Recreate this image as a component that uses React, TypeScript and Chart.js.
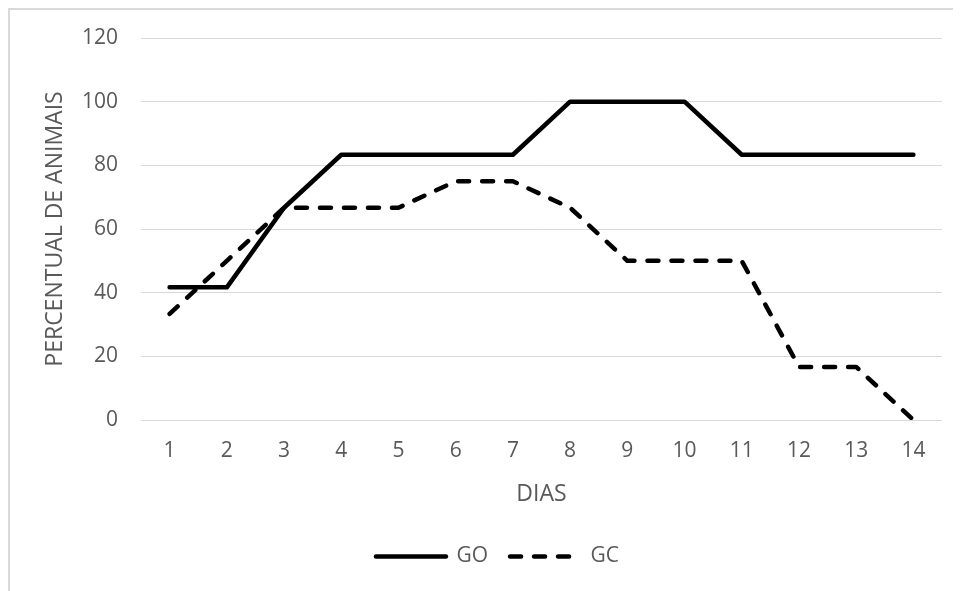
import { useEffect, useRef } from "react";
import { Chart, registerables } from "chart.js";

Chart.register(...registerables);

// Days of observation
const days = ["1", "2", "3", "4", "5", "6", "7", "8", "9", "10", "11", "12", "13", "14"];

// Percentage of animals per group
const goValues = [41.67, 41.67, 66.67, 83.33, 83.33, 83.33, 83.33, 100, 100, 100, 83.33, 83.33, 83.33, 83.33];
const gcValues = [33.33, 50, 66.67, 66.67, 66.67, 75, 75, 66.67, 50, 50, 50, 16.67, 16.67, 0];

// Value axis range
const yMin = 0;
const yMax = 120;
const yStep = 20;

const TEXT = "#595959";
const GRID = "#d9d9d9";
const FONT = "'Open Sans', 'Liberation Sans', sans-serif";

// Light frame around the whole chart (open on the right and bottom edges)
const framePlugin = {
  id: "frame",
  beforeDraw(chart: Chart) {
    const { ctx, width, height } = chart;
    ctx.save();
    ctx.fillStyle = "#ffffff";
    ctx.fillRect(0, 0, width, height);
    ctx.strokeStyle = GRID;
    ctx.lineWidth = 2;
    ctx.strokeRect(1, 1, width + 20, height + 20);
    ctx.restore();
  },
};

export default function App() {
  const canvasRef = useRef<HTMLCanvasElement>(null);

  useEffect(() => {
    const canvas = canvasRef.current;
    if (!canvas) return;
    const chart = new Chart(canvas, {
      type: "line",
      data: {
        labels: days,
        datasets: [
          {
            label: "GO",
            data: goValues,
            borderColor: "#000000",
            backgroundColor: "#000000",
            borderWidth: 4.5,
            borderCapStyle: "round",
            borderJoinStyle: "round",
            pointRadius: 0,
            tension: 0,
          },
          {
            label: "GC",
            data: gcValues,
            borderColor: "#000000",
            backgroundColor: "#000000",
            borderWidth: 4.5,
            borderDash: [11, 13],
            borderCapStyle: "round",
            borderJoinStyle: "round",
            pointRadius: 0,
            tension: 0,
          },
        ],
      },
      options: {
        animation: false,
        responsive: false,
        layout: { padding: { left: 45, right: 19, top: 30, bottom: 14 } },
        scales: {
          x: {
            offset: true,
            grid: { display: false, drawTicks: false },
            border: { display: false },
            ticks: { color: TEXT, font: { family: FONT, size: 21 }, padding: 18, maxRotation: 0 },
            title: {
              display: true,
              text: "DIAS",
              color: TEXT,
              font: { family: FONT, size: 23 },
              padding: { top: 0, bottom: 16 },
            },
            afterFit(scale: any) {
              scale.height = 104;
            },
          },
          y: {
            min: yMin,
            max: yMax,
            grid: { color: GRID, lineWidth: 1, drawTicks: false },
            border: { display: false },
            ticks: { stepSize: yStep, color: TEXT, font: { family: FONT, size: 21 }, padding: 23 },
            title: {
              display: true,
              text: "PERCENTUAL DE ANIMAIS",
              color: TEXT,
              font: { family: FONT, size: 23, lineHeight: 1 },
              padding: { top: -9.5, bottom: 0 },
            },
            afterFit(scale: any) {
              scale.width = 88;
              scale.paddingTop = 0;
              scale.paddingBottom = 0;
            },
          },
        },
        plugins: {
          legend: {
            position: "bottom",
            labels: {
              color: TEXT,
              font: { family: FONT, size: 21 },
              usePointStyle: true,
              pointStyle: "line",
              pointStyleWidth: 70,
              padding: 22,
              generateLabels(c: Chart) {
                const items = Chart.defaults.plugins.legend.labels.generateLabels(c);
                return items.map((item: any) => {
                  const ds: any = c.data.datasets[item.datasetIndex];
                  return {
                    ...item,
                    lineDash: ds.borderDash || [],
                    lineCap: "round",
                    lineWidth: ds.borderWidth,
                    strokeStyle: ds.borderColor,
                  };
                });
              },
            },
          },
          tooltip: { enabled: false },
        },
      },
      plugins: [framePlugin],
    });
    return () => chart.destroy();
  }, []);

  return (
    <canvas
      ref={canvasRef}
      width={953}
      height={583}
      style={{ display: "block", width: 953, height: 583 }}
    />
  );
}
